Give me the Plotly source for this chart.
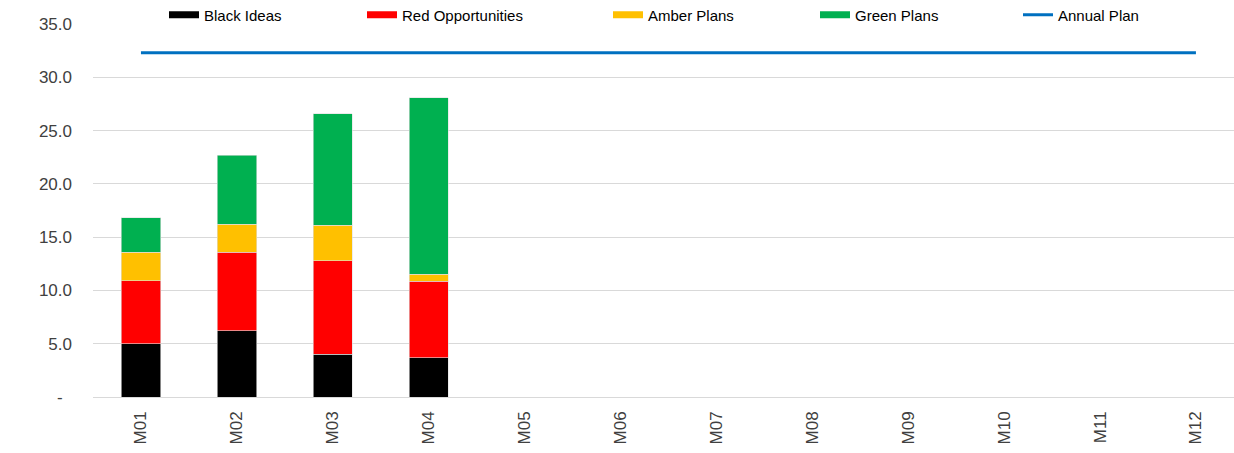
import plotly.graph_objects as go

months = ["M01", "M02", "M03", "M04", "M05", "M06",
          "M07", "M08", "M09", "M10", "M11", "M12"]

black_ideas = [5.0, 6.2, 4.0, 3.7]
red_opportunities = [5.9, 7.4, 8.8, 7.15]
amber_plans = [2.7, 2.6, 3.3, 0.65]
green_plans = [3.2, 6.5, 10.5, 16.6]
annual_plan = [32.3, 32.3, 32.3, 32.3, 32.3, 32.3,
               32.3, 32.3, 32.3, 32.3, 32.3, 32.3]

y_ticks = [0, 5, 10, 15, 20, 25, 30, 35]
y_tick_text = ["-\u00a0\u00a0", "5.0", "10.0", "15.0", "20.0", "25.0", "30.0", "35.0"]

FONT = "Liberation Sans, Arial, sans-serif"

series = [
    ("Black Ideas", black_ideas, "#000000"),
    ("Red Opportunities", red_opportunities, "#FF0000"),
    ("Amber Plans", amber_plans, "#FFC000"),
    ("Green Plans", green_plans, "#00B050"),
]

# legend placement (container pixels) for each entry
legend_x = [164, 362, 608, 815, 1018]

fig = go.Figure()

for i, (name, vals, color) in enumerate(series):
    fig.add_trace(go.Bar(
        x=months[:len(vals)], y=vals, name=name,
        marker=dict(color=color, line=dict(color="#E0E0E0", width=0.6)),
        width=0.41, showlegend=False,
    ))
    # flat swatch shown in the legend
    fig.add_trace(go.Scatter(
        x=[None], y=[None], mode="lines", name=name,
        line=dict(color=color, width=7),
        legend="legend" if i == 0 else f"legend{i + 1}",
    ))

fig.add_trace(go.Scatter(
    x=months, y=annual_plan, mode="lines", name="Annual Plan",
    line=dict(color="#0070C0", width=3),
    legend="legend5",
))

legend_common = dict(
    orientation="h", xref="container", yref="container",
    yanchor="middle", xanchor="left", y=1 - 15 / 453,
    font=dict(family=FONT, size=15, color="#000000"),
    bgcolor="rgba(0,0,0,0)", itemwidth=30, tracegroupgap=0,
)

layout_legends = {}
for i, lx in enumerate(legend_x):
    key = "legend" if i == 0 else f"legend{i + 1}"
    layout_legends[key] = dict(legend_common, x=lx / 1234)

fig.update_layout(
    width=1234, height=453,
    margin=dict(l=93, r=0, t=24, b=56, autoexpand=False),
    barmode="stack",
    plot_bgcolor="#FFFFFF", paper_bgcolor="#FFFFFF",
    font=dict(family=FONT, color="#404040"),
    **layout_legends,
)

fig.update_xaxes(
    type="category", categoryorder="array", categoryarray=months,
    range=[-0.5, 11.397],
    tickangle=-90, tickfont=dict(family=FONT, size=17, color="#404040"),
    ticklabelstandoff=10, showgrid=False, zeroline=False,
    showline=False, ticks="",
)

fig.update_yaxes(
    range=[0, 35], tickvals=y_ticks, ticktext=y_tick_text,
    tickfont=dict(family=FONT, size=17, color="#404040"),
    ticklabelstandoff=20,
    showgrid=True, gridcolor="#D9D9D9", gridwidth=1,
    zeroline=True, zerolinecolor="#D9D9D9", zerolinewidth=1,
    showline=False, ticks="",
)

fig.write_html("out.html")
